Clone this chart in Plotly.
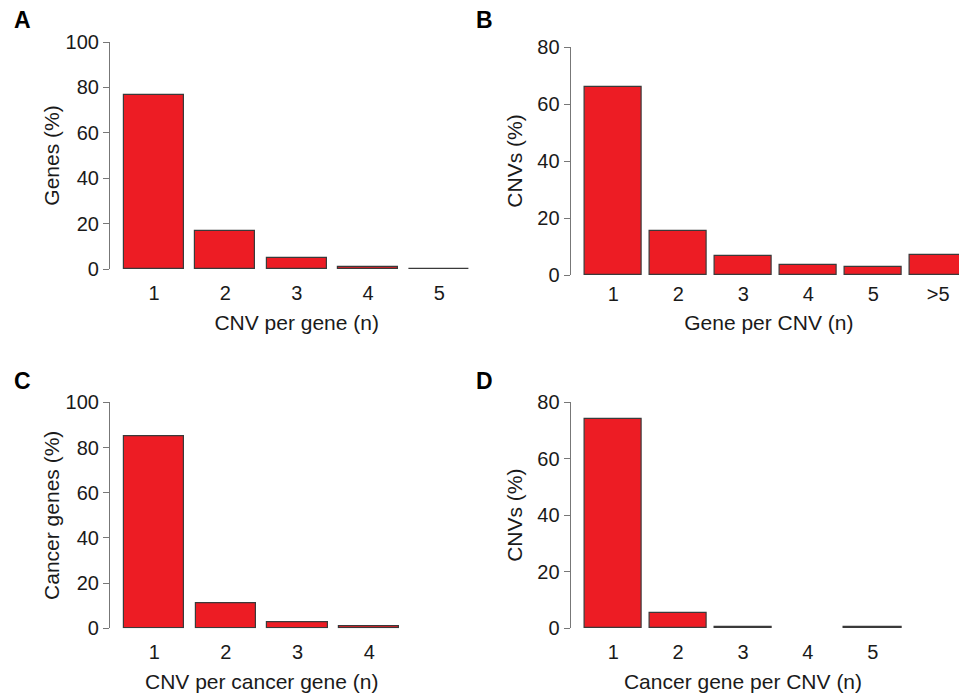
import plotly.graph_objects as go

# The page body adds an 8px offset; figure pixel = reference pixel - 8
OFF = 8
W, H = 967 - OFF, 700 - OFF

# ---- data ----
a_cats = ["1", "2", "3", "4", "5"]
a_vals = [76.7, 16.9, 4.7, 1.0, 0.2]

b_cats = ["1", "2", "3", "4", "5", ">5"]
b_vals = [65.9, 15.3, 6.7, 3.4, 2.9, 6.9]

c_cats = ["1", "2", "3", "4"]
c_vals = [85.0, 11.1, 2.8, 1.0]

d_cats = ["1", "2", "3", "4", "5"]
d_vals = [73.9, 5.3, 0.4, 0.0, 0.4]

panels = [
    dict(letter="A", cats=a_cats, vals=a_vals, ymax=100,
         xtitle="CNV per gene (n)", ytitle="Genes (%)",
         px_x=(110, 483.4), px_y=(42, 269), xr=(0.383, 5.617), bw=0.84,
         xtl=6, xst=12, yst=0, letter_xy=(22.5, 20)),
    dict(letter="B", cats=b_cats, vals=b_vals, ymax=80,
         xtitle="Gene per CNV (n)", ytitle="CNVs (%)",
         px_x=(570.7, 967), px_y=(47, 275), xr=(0.345, 0.345 + (967 - 570.7) / 65), bw=0.885,
         xtl=1, xst=11, yst=8, letter_xy=(484, 20)),
    dict(letter="C", cats=c_cats, vals=c_vals, ymax=100,
         xtitle="CNV per cancer gene (n)", ytitle="Cancer genes (%)",
         px_x=(110, 413.4), px_y=(402.3, 628.3), xr=(0.383, 4.617), bw=0.84,
         xtl=6, xst=12, yst=0, letter_xy=(22.5, 381.5)),
    dict(letter="D", cats=d_cats, vals=d_vals, ymax=80,
         xtitle="Cancer gene per CNV (n)", ytitle="CNVs (%)",
         px_x=(570.7, 915.3), px_y=(402, 628.3), xr=(0.345, 5.655), bw=0.885,
         xtl=6, xst=12, yst=8, letter_xy=(484, 381)),
]

FONT = "Liberation Sans, Arial, Helvetica, sans-serif"
TXT = "#1a1a1a"
fig = go.Figure()
annotations = []
layout = {}


def fx(px):
    return min(max((px - OFF) / W, 0.0), 1.0)


def fy(py):
    return min(max(1 - (py - OFF) / H, 0.0), 1.0)


for i, p in enumerate(panels):
    n = i + 1
    xa = "x" if n == 1 else f"x{n}"
    ya = "y" if n == 1 else f"y{n}"
    xpos = list(range(1, len(p["cats"]) + 1))
    fig.add_trace(go.Bar(
        x=xpos, y=p["vals"], width=p["bw"],
        marker=dict(color="#ED1C24",
                    line=dict(color="#3a3a3a", width=[1.2 if v > 0 else 0 for v in p["vals"]])),
        xaxis=xa, yaxis=ya, showlegend=False, hoverinfo="x+y",
    ))
    x0, x1 = p["px_x"]
    yt, yb = p["px_y"]
    xkey = "xaxis" if n == 1 else f"xaxis{n}"
    ykey = "yaxis" if n == 1 else f"yaxis{n}"
    layout[xkey] = dict(
        domain=[fx(x0), fx(x1)], range=list(p["xr"]), anchor=ya,
        tickmode="array", tickvals=xpos, ticktext=p["cats"],
        showline=False, showgrid=False, zeroline=False, automargin=False,
        ticks="outside", ticklen=p["xtl"], tickcolor="rgba(0,0,0,0)",
        tickfont=dict(family=FONT, size=20, color=TXT),
        title=dict(text=p["xtitle"], font=dict(family=FONT, size=21, color=TXT), standoff=p["xst"]),
        fixedrange=True,
    )
    layout[ykey] = dict(
        domain=[fy(yb), fy(yt)], range=[0, p["ymax"]], anchor=xa,
        tickmode="linear", tick0=0, dtick=20,
        showline=True, linecolor="#777777", linewidth=1.2,
        ticks="outside", ticklen=6, tickcolor="#777777", tickwidth=1.2,
        showgrid=False, zeroline=False, automargin=False,
        tickfont=dict(family=FONT, size=20, color=TXT),
        title=dict(text=p["ytitle"], font=dict(family=FONT, size=21, color=TXT), standoff=p["yst"]),
        fixedrange=True,
    )
    lx, ly = p["letter_xy"]
    annotations.append(dict(
        text=f"<b>{p['letter']}</b>", x=fx(lx), y=fy(ly), xref="paper", yref="paper",
        showarrow=False, xanchor="center", yanchor="middle",
        font=dict(family=FONT, size=23, color="#000000"),
    ))

fig.update_layout(
    width=W, height=H,
    margin=dict(l=0, r=0, t=0, b=0, pad=0, autoexpand=False),
    paper_bgcolor="white", plot_bgcolor="white",
    bargap=0, annotations=annotations,
    **layout,
)

fig.write_html("out.html")
